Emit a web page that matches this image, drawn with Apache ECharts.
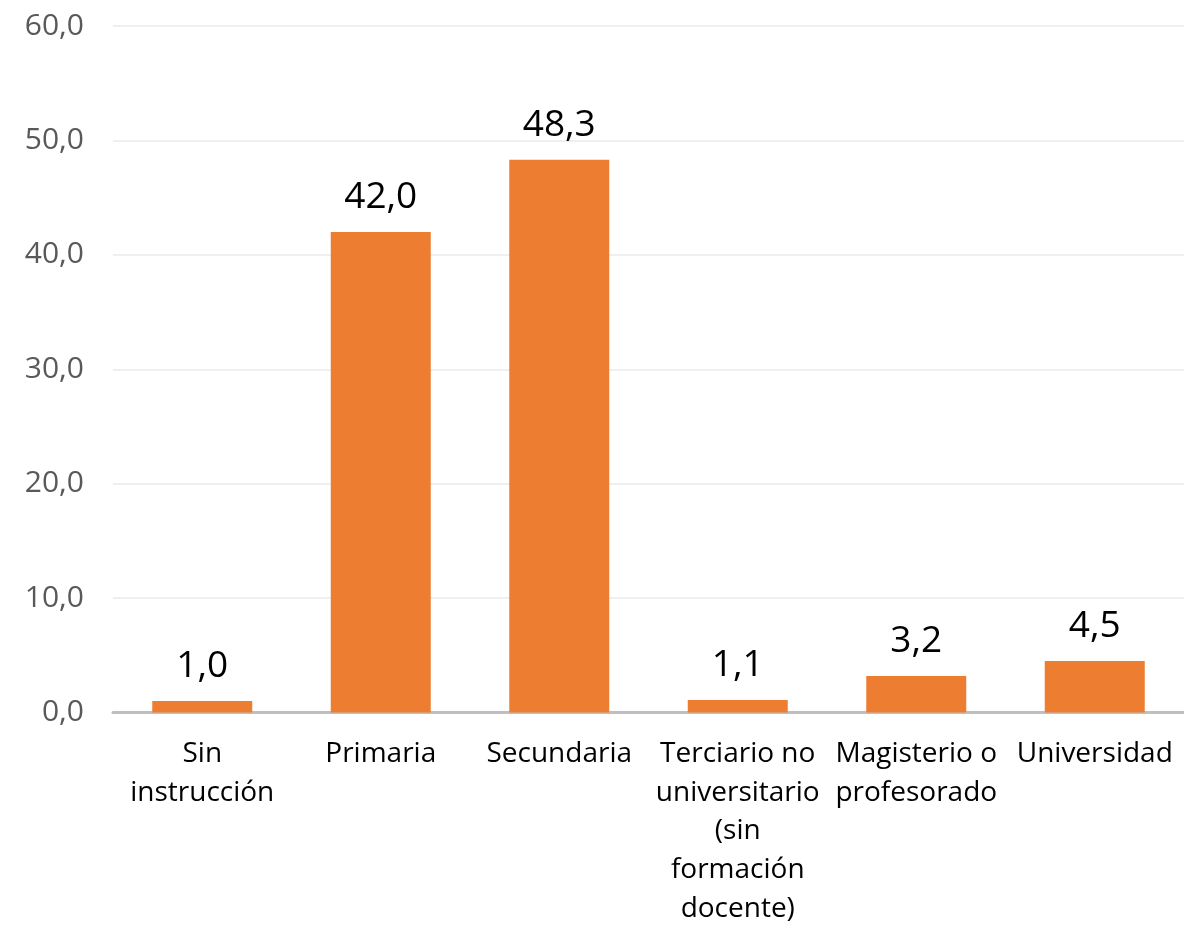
<!DOCTYPE html>
<html>
<head>
<meta charset="utf-8">
<script src="https://cdn.jsdelivr.net/npm/echarts@6/dist/echarts.min.js"></script>
<style>html,body{margin:0;padding:0;background:#fff;overflow:hidden}#c{width:1184px;height:928px}</style>
</head>
<body>
<div id="c"></div>
<script>
const categories = [
  "Sin\ninstrucción",
  "Primaria",
  "Secundaria",
  "Terciario no\nuniversitario\n(sin\nformación\ndocente)",
  "Magisterio o\nprofesorado",
  "Universidad"
];
const values = [1.0, 42.0, 48.3, 1.1, 3.2, 4.5];
const yTicks = [0, 10, 20, 30, 40, 50, 60];

const fmt = v => v.toFixed(1).replace('.', ',');
const chart = echarts.init(document.getElementById('c'));
chart.setOption({
  animation: false,
  textStyle: { fontFamily: 'Open Sans' },
  grid: { left: 113, right: -12, top: 26, bottom: 212, containLabel: false },
  xAxis: {
    type: 'category',
    data: categories,
    axisLine: { lineStyle: { color: '#bfbfbf', width: 3 } },
    axisTick: { show: false },
    axisLabel: { interval: 0, color: '#000', fontSize: 28, lineHeight: 38.7, margin: 22, fontFamily: 'Open Sans' }
  },
  yAxis: {
    type: 'value',
    min: yTicks[0],
    max: yTicks[yTicks.length - 1],
    interval: 10,
    axisLine: { show: false },
    axisTick: { show: false },
    splitLine: { lineStyle: { color: '#efefef', width: 2 } },
    axisLabel: { color: '#595959', fontSize: 30, margin: 29, formatter: v => fmt(v), fontFamily: 'Open Sans' }
  },
  series: [{
    type: 'bar',
    data: values,
    barWidth: 100,
    itemStyle: { color: '#ED7D31' },
    label: { show: true, position: 'top', distance: 16, color: '#000', fontSize: 37, fontFamily: 'Open Sans', formatter: p => fmt(p.value) }
  }]
});
</script>
</body>
</html>
